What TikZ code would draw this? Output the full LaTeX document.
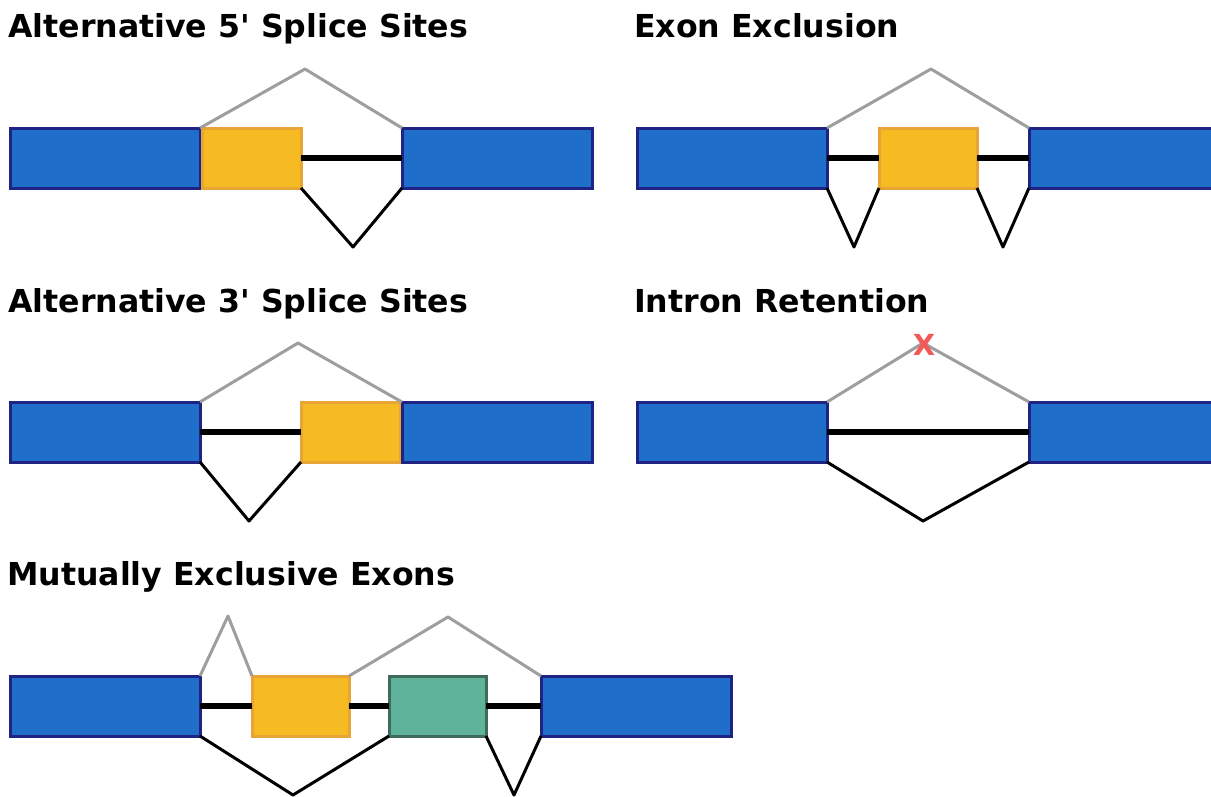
\documentclass[tikz,border=0pt]{standalone}
\usepackage{fontspec}
\setmainfont{DejaVu Sans}
\usetikzlibrary{positioning}

\definecolor{exonblue}{HTML}{1F6ECA}
\definecolor{exonedge}{HTML}{1F2383}
\definecolor{altyellow}{HTML}{F6BA22}
\definecolor{altedge}{HTML}{E8A435}
\definecolor{altgreen}{HTML}{60B39B}
\definecolor{greenedge}{HTML}{3F6B5C}
\definecolor{skipgray}{HTML}{9E9E9E}
\definecolor{crossred}{HTML}{F25A5A}

\begin{document}
\begin{tikzpicture}[x=1pt,y=-1pt,
  exon/.style={rectangle,draw=exonedge,fill=exonblue,line width=3pt,
    minimum width=190pt,minimum height=60pt,inner sep=0pt,outer sep=0pt},
  alt/.style={exon,draw=altedge,fill=altyellow,minimum width=99pt},
  altb/.style={exon,draw=greenedge,fill=altgreen,minimum width=97pt},
  intron/.style={line width=6pt},
  skip/.style={draw=skipgray,line width=3pt,line join=round},
  splice/.style={draw=black,line width=3pt,line join=round},
  title/.style={anchor=base west,inner sep=0pt,font=\bfseries\fontsize{31.6}{37}\selectfont}]

\clip (0,0) rectangle (1211,796);
\fill[white] (0,0) rectangle (1211,796);

% alternative 5' splice sites
\node[title] (t1) at (8,37) {Alternative 5\textquotesingle{} Splice Sites};
\node[exon] (a1) at (105,158) {};
\node[alt]  (a2) at (251.5,158) {};
\node[exon] (a3) at (497,158) {};
\coordinate (a1top) at (305,69);
\coordinate (a1bot) at (353,247);
\draw[intron] (a2.east) -- (a3.west);
\draw[skip] (a1.north east) -- (a1top) -- (a3.north west);
\draw[splice] (a2.south east) -- (a1bot) -- (a3.south west);

% exon exclusion
\node[title] (t2) at (634,37) {Exon Exclusion};
\node[exon] (b1) at (732,158) {};
\node[alt,minimum width=98pt]  (b2) at (928,158) {};
\node[exon] (b3) at (1124,158) {};
\coordinate (b1top) at (931,69);
\coordinate (b1bot) at (854,247);
\coordinate (b2bot) at (1003,247);
\draw[intron] (b1.east) -- (b2.west);
\draw[intron] (b2.east) -- (b3.west);
\draw[skip] (b1.north east) -- (b1top) -- (b3.north west);
\draw[splice] (b1.south east) -- (b1bot) -- (b2.south west);
\draw[splice] (b2.south east) -- (b2bot) -- (b3.south west);

% alternative 3' splice sites
\node[title] (t3) at (8,312) {Alternative 3\textquotesingle{} Splice Sites};
\node[exon] (c1) at (105,432) {};
\node[alt]  (c2) at (350.5,432) {};
\node[exon] (c3) at (497,432) {};
\coordinate (c1top) at (298,343);
\coordinate (c1bot) at (249,521);
\draw[intron] (c1.east) -- (c2.west);
\draw[skip] (c1.north east) -- (c1top) -- (c3.north west);
\draw[splice] (c1.south east) -- (c1bot) -- (c2.south west);

% intron retention
\node[title] (t4) at (634,312) {Intron Retention};
\node[exon] (d1) at (732,432) {};
\node[exon] (d2) at (1124,432) {};
\coordinate (d1top) at (923,343);
\coordinate (d1bot) at (923,521);
\draw[intron] (d1.east) -- (d2.west);
\draw[skip] (d1.north east) -- (d1top) -- (d2.north west);
\draw[splice] (d1.south east) -- (d1bot) -- (d2.south west);
\node[text=crossred,inner sep=0pt,font=\bfseries\fontsize{29}{32}\selectfont] (x) at (924,345) {X};

% mutually exclusive exons
\node[title] (t5) at (7,585) {Mutually Exclusive Exons};
\node[exon] (e1) at (105,706) {};
\node[alt,minimum width=97pt] (e2) at (300.5,706) {};
\node[altb] (e3) at (437.5,706) {};
\node[exon] (e4) at (636,706) {};
\coordinate (e1top) at (228,616);
\coordinate (e2top) at (448,617);
\coordinate (e1bot) at (293,795);
\coordinate (e3bot) at (514,795);
\draw[intron] (e1.east) -- (e2.west);
\draw[intron] (e2.east) -- (e3.west);
\draw[intron] (e3.east) -- (e4.west);
\draw[skip] (e1.north east) -- (e1top) -- (e2.north west);
\draw[skip] (e2.north east) -- (e2top) -- (e4.north west);
\draw[splice] (e1.south east) -- (e1bot) -- (e3.south west);
\draw[splice] (e3.south east) -- (e3bot) -- (e4.south west);

\end{tikzpicture}
\end{document}
